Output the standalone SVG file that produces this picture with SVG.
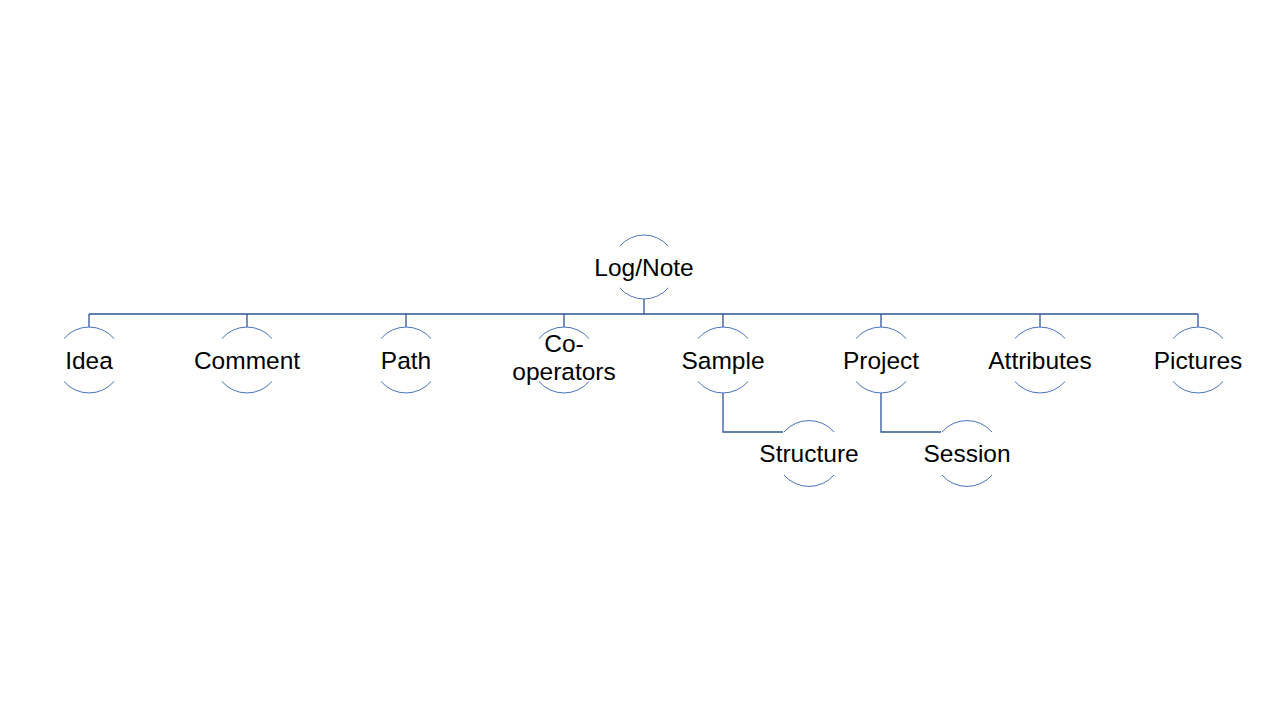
<svg xmlns="http://www.w3.org/2000/svg" xmlns:xlink="http://www.w3.org/1999/xlink" width="1280" height="720" viewBox="0 0 1280 720">
<style>
.arc{fill:none;stroke:#4A72BE;stroke-width:1}
.con{fill:none;stroke:#2F5597;stroke-width:1.3}
text{font-family:"Liberation Sans",Arial,sans-serif;font-size:24.5px;fill:#000;text-anchor:middle}
</style>
<defs>
<path id="ring" d="M-25 -21.5 A33 33 0 0 1 25 -21.5 M-25 21.5 A33 33 0 0 0 25 21.5"/>
</defs>
<rect width="1280" height="720" fill="#fff"/>
<g id="connectors" class="con">
<path d="M644 299 V314"/>
<path d="M89 314 H1198"/>
<path d="M89 314 V327 M247 314 V327 M406 314 V327 M564 314 V327 M723 314 V327 M881 314 V327 M1040 314 V327 M1198 314 V327"/>
<path d="M723 393 V432 H783"/>
<path d="M881 393 V432 H941"/>
</g>
<g id="lognote" transform="translate(644,267)"><use xlink:href="#ring" class="arc" transform="scale(0.97)"/><text x="0" y="8.5">Log/Note</text></g>
<g id="idea" transform="translate(89,360)"><use xlink:href="#ring" class="arc"/><text x="0" y="8.5">Idea</text></g>
<g id="comment" transform="translate(247,360)"><use xlink:href="#ring" class="arc"/><text x="0" y="8.5">Comment</text></g>
<g id="path" transform="translate(406,360)"><use xlink:href="#ring" class="arc"/><text x="0" y="8.5">Path</text></g>
<g id="cooperators" transform="translate(564,360)"><use xlink:href="#ring" class="arc"/><text x="0" y="-8">Co-</text><text x="0" y="20">operators</text></g>
<g id="sample" transform="translate(723,360)"><use xlink:href="#ring" class="arc"/><text x="0" y="8.5">Sample</text></g>
<g id="project" transform="translate(881,360)"><use xlink:href="#ring" class="arc"/><text x="0" y="8.5">Project</text></g>
<g id="attributes" transform="translate(1040,360)"><use xlink:href="#ring" class="arc"/><text x="0" y="8.5">Attributes</text></g>
<g id="pictures" transform="translate(1198,360)"><use xlink:href="#ring" class="arc"/><text x="0" y="8.5">Pictures</text></g>
<g id="structure" transform="translate(809,453.5)"><use xlink:href="#ring" class="arc"/><text x="0" y="8">Structure</text></g>
<g id="session" transform="translate(967,453.5)"><use xlink:href="#ring" class="arc"/><text x="0" y="8">Session</text></g>
</svg>
